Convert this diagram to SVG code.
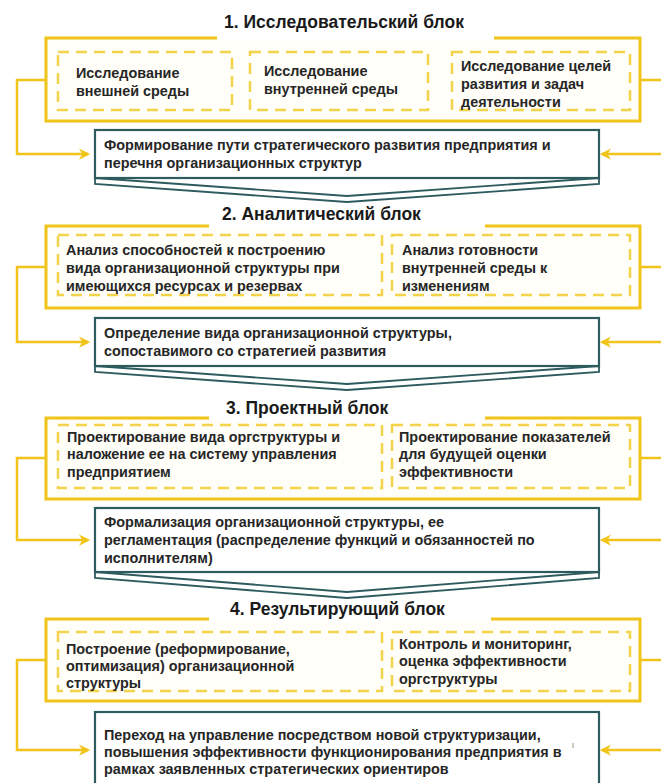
<svg xmlns="http://www.w3.org/2000/svg" width="661" height="783" viewBox="0 0 661 783">
<style>
.outer{fill:#fffef8;stroke:#f0c419;stroke-width:3}
.gap{stroke:#fff;stroke-width:6}
.dash{fill:none;stroke:#f3d34a;stroke-width:2.5;stroke-dasharray:11 7}
.teal{fill:#fff;stroke:#2e5b5e;stroke-width:2.2}
.vee{fill:#fff;stroke:#2e5b5e;stroke-width:1.8;stroke-linejoin:miter}
.con{fill:none;stroke:#f0c419;stroke-width:2.5}
.title{font-family:"Liberation Sans",Arial,sans-serif;font-weight:bold;font-size:17.5px;fill:#1a1a1a}
.t{font-family:"Liberation Sans",Arial,sans-serif;font-weight:bold;font-size:14.4px;fill:#262626}
</style>
<defs>
<marker id="ah" viewBox="0 0 10 10" refX="8" refY="5" markerWidth="4.5" markerHeight="4.5" orient="auto-start-reverse">
<path d="M0,0 L10,5 L0,10 L3,5 z" fill="#f0c419"/>
</marker>
</defs>
<rect width="661" height="783" fill="#fff"/>

<g id="block1">
<rect class="outer" x="46" y="38" width="594" height="83"/>
<line class="gap" x1="217" y1="38" x2="494" y2="38"/>
<text class="title" x="224" y="28">1. Исследовательский блок</text>
</g>
<g id="b1n1"><rect class="dash" x="58" y="52" width="174" height="58"/>
<text class="t" x="76" y="78">Исследование</text><text class="t" x="76" y="96">внешней среды</text></g>
<g id="b1n2"><rect class="dash" x="250" y="52" width="178" height="58"/>
<text class="t" x="264" y="76">Исследование</text><text class="t" x="264" y="94">внутренней среды</text></g>
<g id="b1n3"><rect class="dash" x="452" y="52" width="178" height="58"/>
<text class="t" x="461" y="71">Исследование целей</text><text class="t" x="461" y="89">развития и задач</text><text class="t" x="461" y="107">деятельности</text></g>
<g id="b1res">
<path class="vee" d="M95,178 L347,196 L599,178 L599,184 L347,202 L95,184 Z"/>
<rect class="teal" x="95" y="130" width="504" height="48"/>
<text class="t" x="104" y="150">Формирование пути стратегического развития предприятия и</text>
<text class="t" x="104" y="168">перечня организационных структур</text>
</g>

<g id="block2">
<rect class="outer" x="46" y="226" width="594" height="82"/>
<line class="gap" x1="209" y1="226" x2="485" y2="226"/>
<text class="title" x="222" y="220">2. Аналитический блок</text>
</g>
<g id="b2n1"><rect class="dash" x="58" y="235" width="324" height="60"/>
<text class="t" x="66" y="255">Анализ способностей к построению</text><text class="t" x="66" y="273">вида организационной структуры при</text><text class="t" x="66" y="291">имеющихся ресурсах и резервах</text></g>
<g id="b2n2"><rect class="dash" x="392" y="235" width="238" height="60"/>
<text class="t" x="402" y="255">Анализ готовности</text><text class="t" x="402" y="273">внутренней среды к</text><text class="t" x="402" y="291">изменениям</text></g>
<g id="b2res">
<path class="vee" d="M95,366 L347,384 L599,366 L599,372 L347,390 L95,372 Z"/>
<rect class="teal" x="95" y="318" width="504" height="48"/>
<text class="t" x="104" y="338">Определение вида организационной структуры,</text>
<text class="t" x="104" y="356">сопоставимого со стратегией развития</text>
</g>

<g id="block3">
<rect class="outer" x="46" y="418" width="594" height="81"/>
<line class="gap" x1="209" y1="418" x2="485" y2="418"/>
<text class="title" x="226" y="414">3. Проектный блок</text>
</g>
<g id="b3n1"><rect class="dash" x="58" y="425" width="324" height="63"/>
<text class="t" x="67" y="442">Проектирование вида оргструктуры и</text><text class="t" x="67" y="459">наложение ее на систему управления</text><text class="t" x="67" y="477">предприятием</text></g>
<g id="b3n2"><rect class="dash" x="392" y="425" width="238" height="63"/>
<text class="t" x="399" y="442">Проектирование показателей</text><text class="t" x="399" y="459">для будущей оценки</text><text class="t" x="399" y="477">эффективности</text></g>
<g id="b3res">
<path class="vee" d="M95,572 L347,592 L599,572 L599,578 L347,598 L95,578 Z"/>
<rect class="teal" x="95" y="508" width="504" height="64"/>
<text class="t" x="104" y="527">Формализация организационной структуры, ее</text>
<text class="t" x="104" y="545">регламентация (распределение функций и обязанностей по</text>
<text class="t" x="104" y="563">исполнителям)</text>
</g>

<g id="block4">
<rect class="outer" x="46" y="619" width="594" height="82"/>
<line class="gap" x1="209" y1="619" x2="491" y2="619"/>
<text class="title" x="230" y="615">4. Результирующий блок</text>
</g>
<g id="b4n1"><rect class="dash" x="58" y="632" width="324" height="59"/>
<text class="t" x="66" y="654">Построение (реформирование,</text><text class="t" x="66" y="671">оптимизация) организационной</text><text class="t" x="66" y="688">структуры</text></g>
<g id="b4n2"><rect class="dash" x="392" y="632" width="238" height="59"/>
<text class="t" x="399" y="649">Контроль и мониторинг,</text><text class="t" x="399" y="666">оценка эффективности</text><text class="t" x="399" y="684">оргструктуры</text></g>
<g id="b4res">
<rect class="teal" x="95" y="712" width="504" height="80"/>
<text class="t" x="104" y="740">Переход на управление посредством новой структуризации,</text>
<text class="t" x="104" y="757">повышения эффективности функционирования предприятия в</text>
<text class="t" x="104" y="774">рамках заявленных стратегических ориентиров</text>
<text x="572" y="748" font-family="Liberation Sans,sans-serif" font-size="7" fill="#666">I</text>
</g>

<g id="connectors">
<path class="con" d="M46,80 H17 V154 H88" marker-end="url(#ah)"/>
<path class="con" d="M640,80 H661"/>
<path class="con" d="M661,154 H602" marker-end="url(#ah)"/>
<path class="con" d="M46,267 H17 V342 H88" marker-end="url(#ah)"/>
<path class="con" d="M640,267 H661"/>
<path class="con" d="M661,342 H602" marker-end="url(#ah)"/>
<path class="con" d="M46,458 H17 V540 H88" marker-end="url(#ah)"/>
<path class="con" d="M640,458 H661"/>
<path class="con" d="M661,540 H602" marker-end="url(#ah)"/>
<path class="con" d="M46,660 H17 V750 H88" marker-end="url(#ah)"/>
<path class="con" d="M640,660 H661"/>
<path class="con" d="M661,750 H602" marker-end="url(#ah)"/>
</g>
</svg>
